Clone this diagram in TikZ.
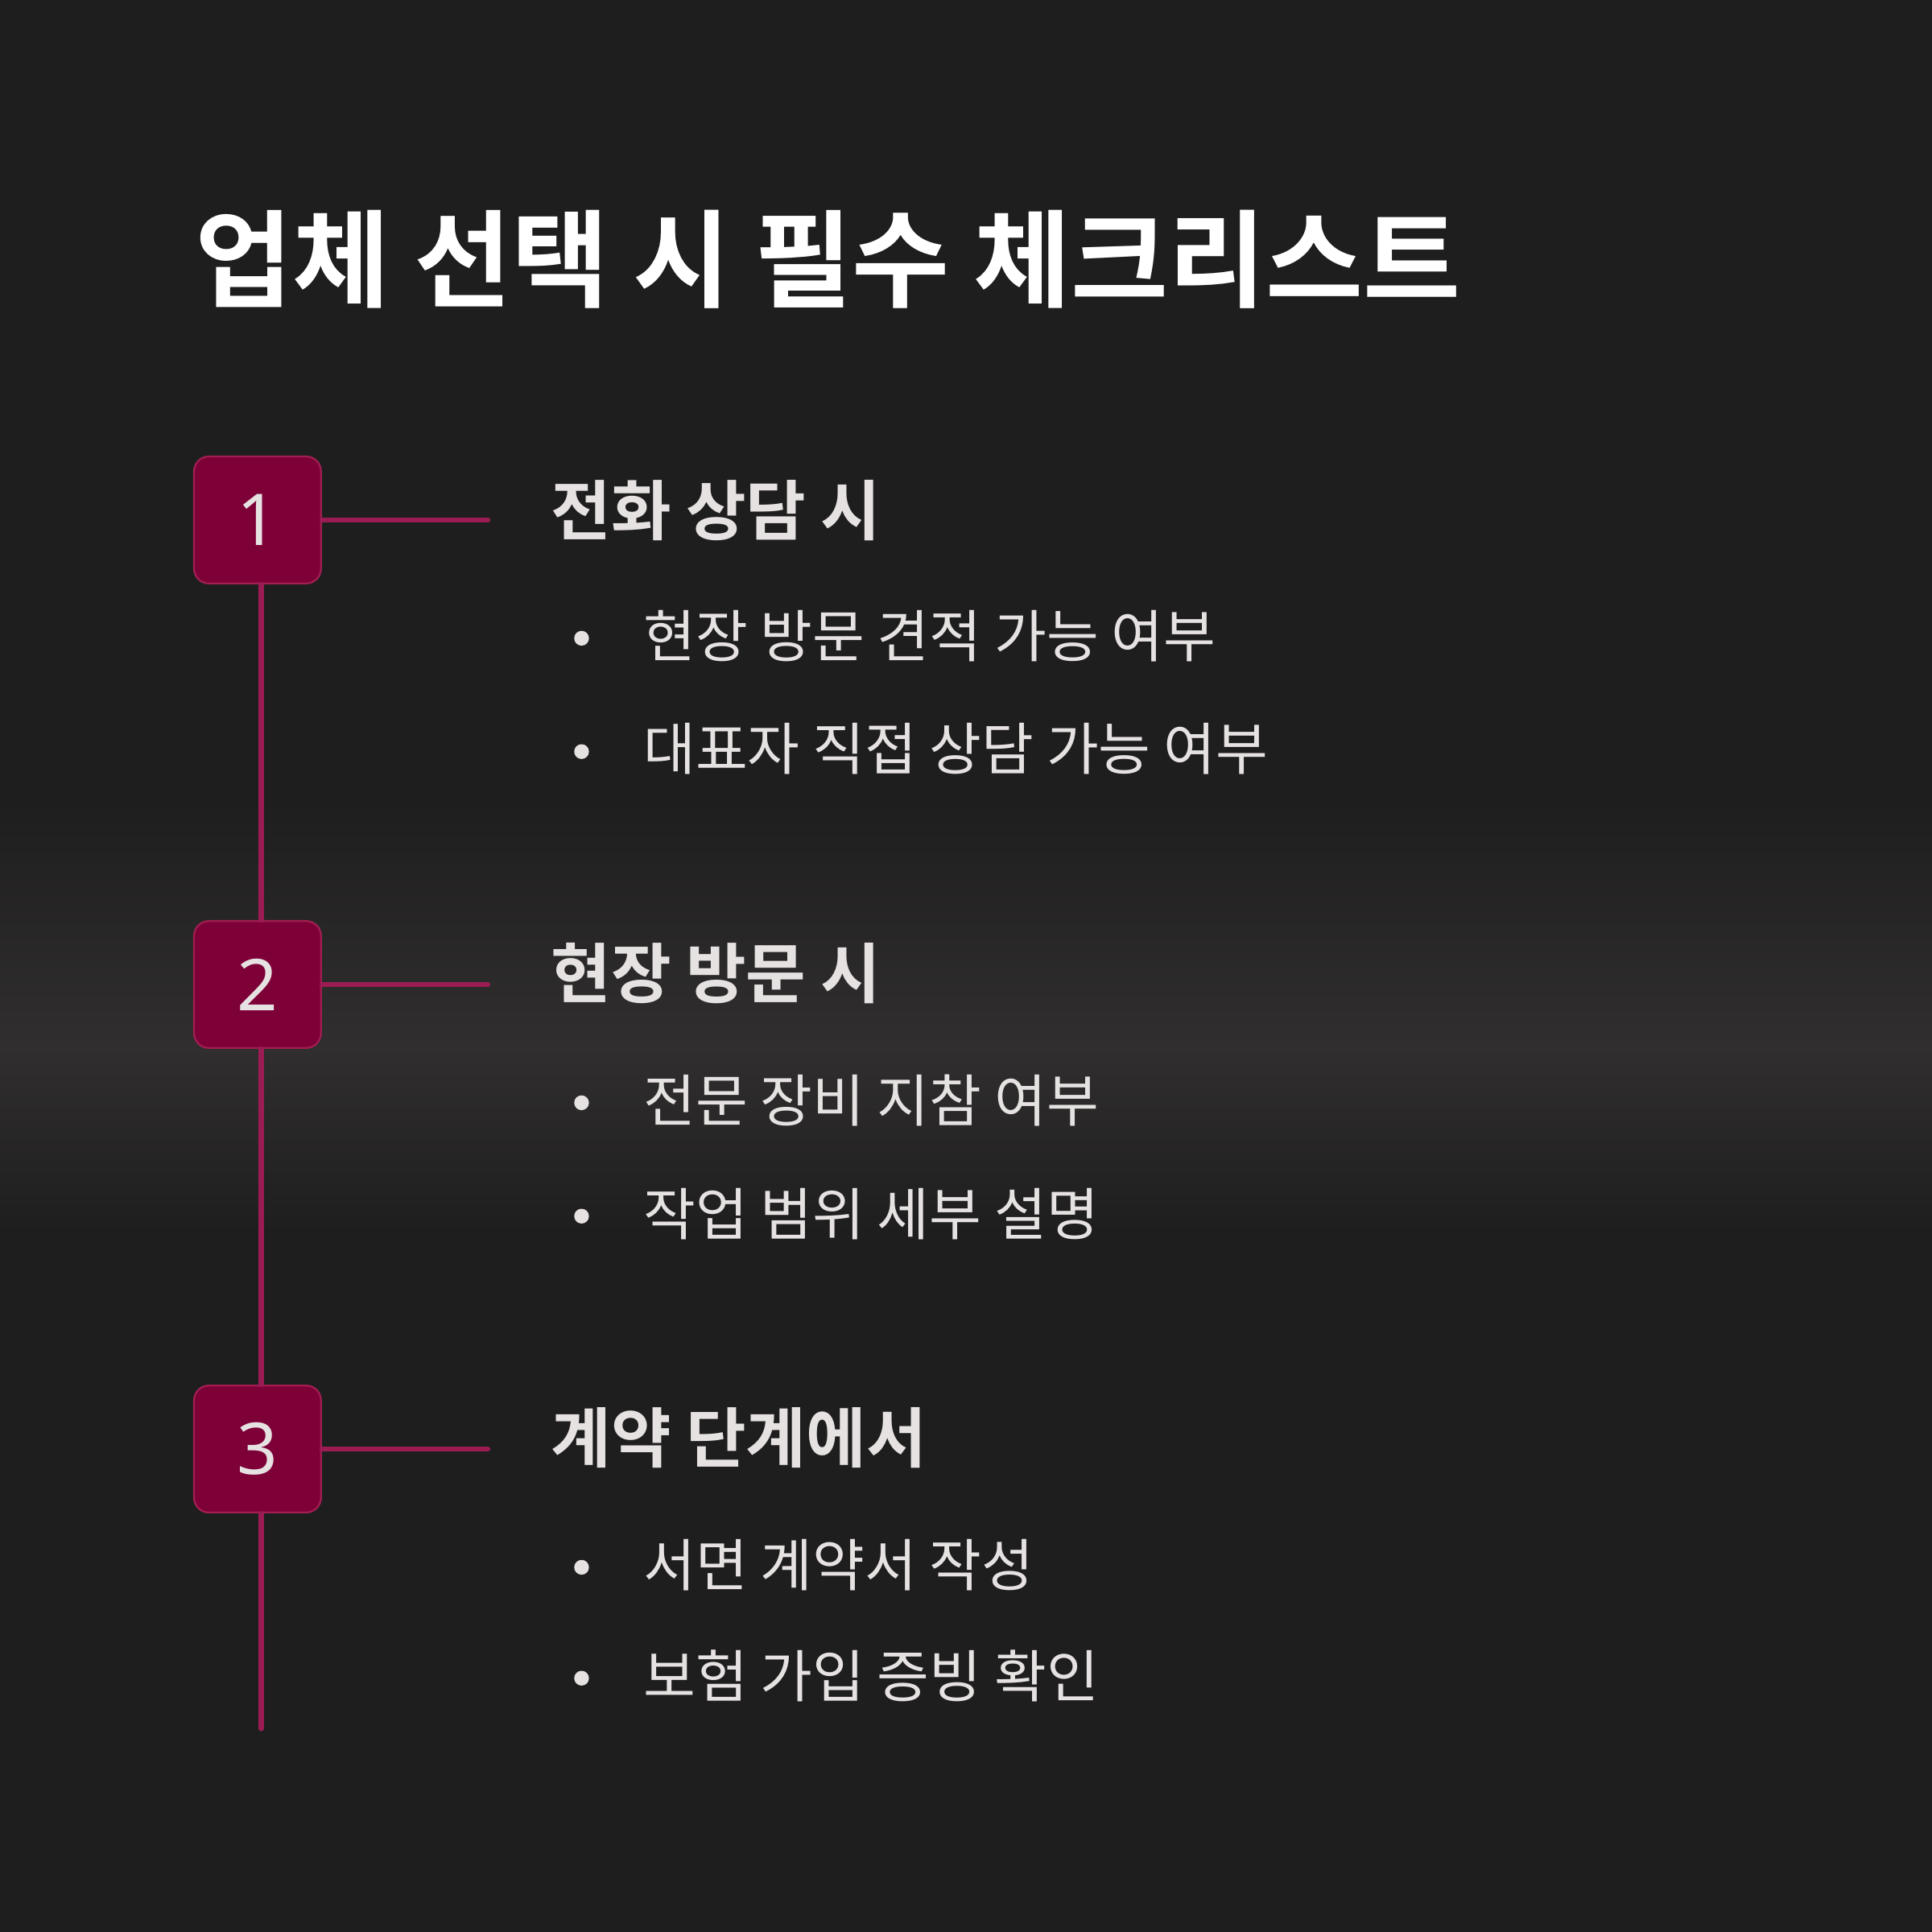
\documentclass[tikz,border=0pt]{standalone}
\usepackage{fontspec}
\newfontfamily\kr{Noto Sans CJK KR}
\newfontfamily\krb{Noto Sans CJK KR Bold}
\newfontfamily\numf{Noto Sans}
\definecolor{bg}{HTML}{1F1E1F}
\definecolor{bgl}{HTML}{302E2E}
\definecolor{boxf}{HTML}{7D0037}
\definecolor{boxd}{HTML}{A01E50}
\definecolor{ln}{HTML}{9B1C52}
\definecolor{txt}{HTML}{E6E2E2}
\tikzset{
 numbox/.style={draw=boxd,line width=1.5pt,fill=boxf,rounded corners=12pt,minimum width=103pt,minimum height=103pt,text=txt,font=\numf\bfseries\fontsize{58}{60}\selectfont},
 conn/.style={ln,line width=4pt,line cap=round},
 head/.style={anchor=west,text=txt,font=\krb\fontsize{53}{56}\selectfont,inner sep=0pt},
 item/.style={anchor=west,text=txt,font=\kr\fontsize{46}{50}\selectfont,inner sep=0pt},
 dot/.style={circle,fill=txt,minimum size=12pt,inner sep=0pt}
}
\begin{document}
\begin{tikzpicture}[x=1pt,y=-1pt]
\useasboundingbox (0,0) rectangle (1568,1568);
\fill[bg] (0,0) rectangle (1568,1568);
\shade[top color=bg,bottom color=bgl] (0,650) rectangle (1568,850);
\shade[top color=bgl,bottom color=bg] (0,850) rectangle (1568,1000);
\node[anchor=base west,text=white,font=\krb\fontsize{86}{90}\selectfont,inner sep=0pt] (title) at (158,243) {업체 선택 시 필수 체크리스트};
\coordinate (end) at (212,1403);
\node[numbox] (b1) at (209,422) {1};
\node[numbox] (b2) at (209,799) {2};
\node[numbox] (b3) at (209,1176) {3};
\draw[conn] (b1.south -| 212,0) -- (b2.north -| 212,0);
\draw[conn] (b2.south -| 212,0) -- (b3.north -| 212,0);
\draw[conn] (b3.south -| 212,0) -- (end);
\coordinate (c1) at (396,422); \coordinate (c2) at (396,799); \coordinate (c3) at (396,1176);
\draw[conn] (b1.east) -- (c1);
\draw[conn] (b2.east) -- (c2);
\draw[conn] (b3.east) -- (c3);
\node[head] (h1) at (447,414) {전화 상담 시};
\node[head] (h2) at (447,790) {현장 방문 시};
\node[head] (h3) at (447,1167) {계약 단계에서};
\foreach \y/\t [count=\i] in {516/현장 방문 견적 가능 여부, 608/대표자 직접 상담 가능 여부, 893/전문 장비 지참 여부, 985/작업 범위 세부 설명, 1270/서면 계약서 작성, 1360/보험 가입 증빙 확인}{
 \node[dot] (d\i) at (472,\y+2) {};
 \node[item] (t\i) at (522,\y) {\t};
}
\end{tikzpicture}
\end{document}
